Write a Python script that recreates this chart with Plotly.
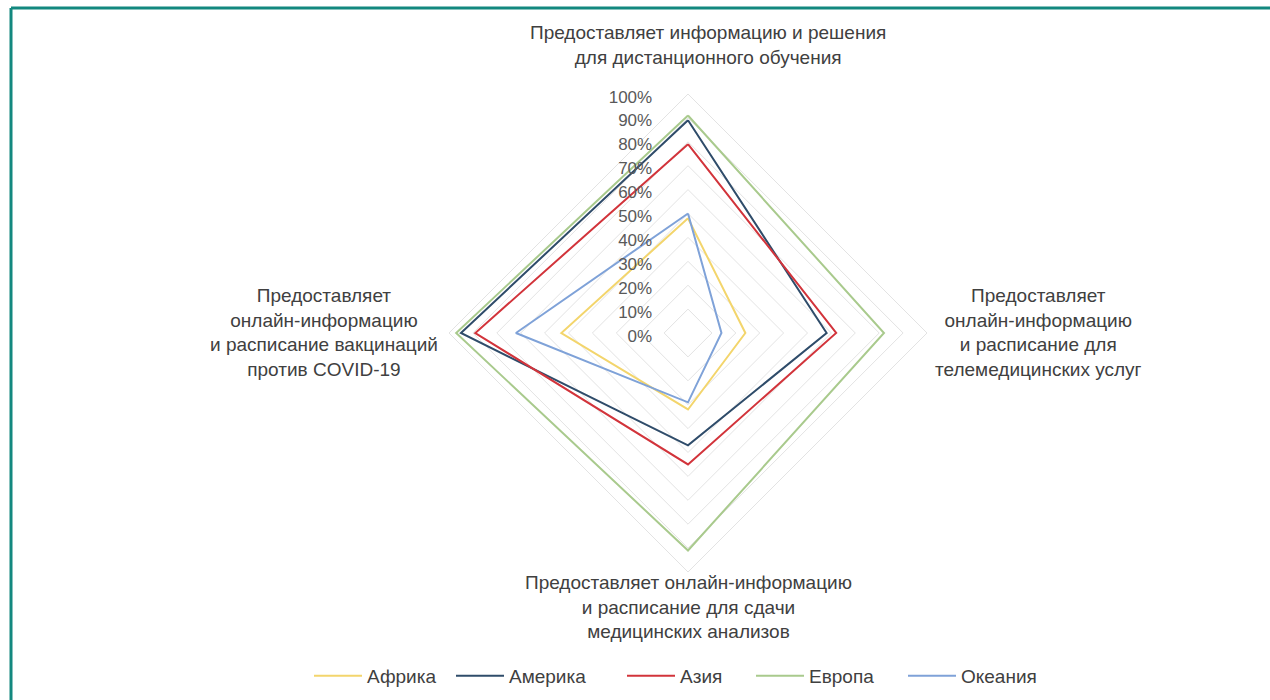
import plotly.graph_objects as go

categories = [
    "Предоставляет информацию и решения<br>для дистанционного обучения",
    "Предоставляет<br>онлайн-информацию<br>и расписание для<br>телемедицинских услуг",
    "Предоставляет онлайн-информацию<br>и расписание для сдачи<br>медицинских анализов",
    "Предоставляет<br>онлайн-информацию<br>и расписание вакцинаций<br>против COVID-19",
]

africa = [0.48, 0.24, 0.32, 0.53]
america = [0.89, 0.58, 0.47, 0.95]
asia = [0.79, 0.62, 0.55, 0.89]
europe = [0.91, 0.82, 0.91, 0.97]
oceania = [0.50, 0.14, 0.29, 0.72]

series_names = ["Африка", "Америка", "Азия", "Европа", "Океания"]
series_values = [africa, america, asia, europe, oceania]
series_colors = ["#f3d56c", "#2f4c6a", "#d2343b", "#a9ca8d", "#7fa2d8"]

radial_ticks = [i / 10 for i in range(11)]

W, H = 1270, 700
cx, cy, R = 688, 333, 239

# label centres (pixels) for the category labels
label_pos = [(708, 45), (1038, 332), (688, 607), (324, 332)]
# legend entry left edges (pixels)
legend_x = [309, 451, 622, 751, 903]
legend_y = 676

fig = go.Figure()
legend_layouts = {}
for i, (name, vals, col) in enumerate(zip(series_names, series_values, series_colors)):
    lg = "legend" if i == 0 else f"legend{i + 1}"
    fig.add_trace(go.Scatterpolar(
        r=vals + vals[:1],
        theta=categories + categories[:1],
        mode="lines",
        name=name,
        line=dict(color=col, width=2),
        hoverinfo="skip",
        legend=lg,
    ))
    legend_layouts[lg] = dict(
        orientation="h",
        x=legend_x[i] / W, xanchor="left",
        y=1 - legend_y / H, yanchor="middle",
        font=dict(size=19, color="#404040"),
        itemwidth=48,
        bgcolor="rgba(0,0,0,0)",
        borderwidth=0,
    )

annotations = []
for text, (px, py) in zip(categories, label_pos):
    annotations.append(dict(
        text=text, x=px / W, y=1 - py / H, xref="paper", yref="paper",
        xanchor="center", yanchor="middle", align="center", showarrow=False,
        font=dict(size=19, color="#404040"),
    ))

fig.update_layout(
    width=W, height=H,
    margin=dict(l=0, r=0, t=0, b=0),
    paper_bgcolor="white",
    plot_bgcolor="white",
    font=dict(family="Liberation Sans, Arial, sans-serif", color="#404040", size=18),
    polar=dict(
        domain=dict(x=[(cx - R) / W, (cx + R) / W], y=[1 - (cy + R) / H, 1 - (cy - R) / H]),
        bgcolor="white",
        gridshape="linear",
        radialaxis=dict(
            range=[0, 1],
            tickvals=radial_ticks,
            tickformat=".0%",
            angle=90,
            side="counterclockwise",
            showline=False,
            ticks="outside",
            ticklen=20,
            tickcolor="rgba(0,0,0,0)",
            gridcolor="#e3e3e3",
            gridwidth=1,
            tickfont=dict(size=17, color="#595959"),
        ),
        angularaxis=dict(
            rotation=90,
            direction="clockwise",
            showgrid=False,
            showline=True,
            linecolor="#e3e3e3",
            linewidth=1,
            ticks="",
            showticklabels=False,
        ),
    ),
    showlegend=True,
    annotations=annotations,
    shapes=[
        dict(type="line", xref="paper", yref="paper", x0=11 / W, x1=1, y0=1 - 8 / H, y1=1 - 8 / H,
             line=dict(color="#13887f", width=3)),
        dict(type="line", xref="paper", yref="paper", x0=11 / W, x1=11 / W, y0=0, y1=1 - 8 / H,
             line=dict(color="#13887f", width=3)),
    ],
    **legend_layouts,
)

fig.write_html(
    "out.html",
    config={"displayModeBar": False},
    post_script="document.body.style.margin='0';document.body.style.overflow='hidden';",
)
